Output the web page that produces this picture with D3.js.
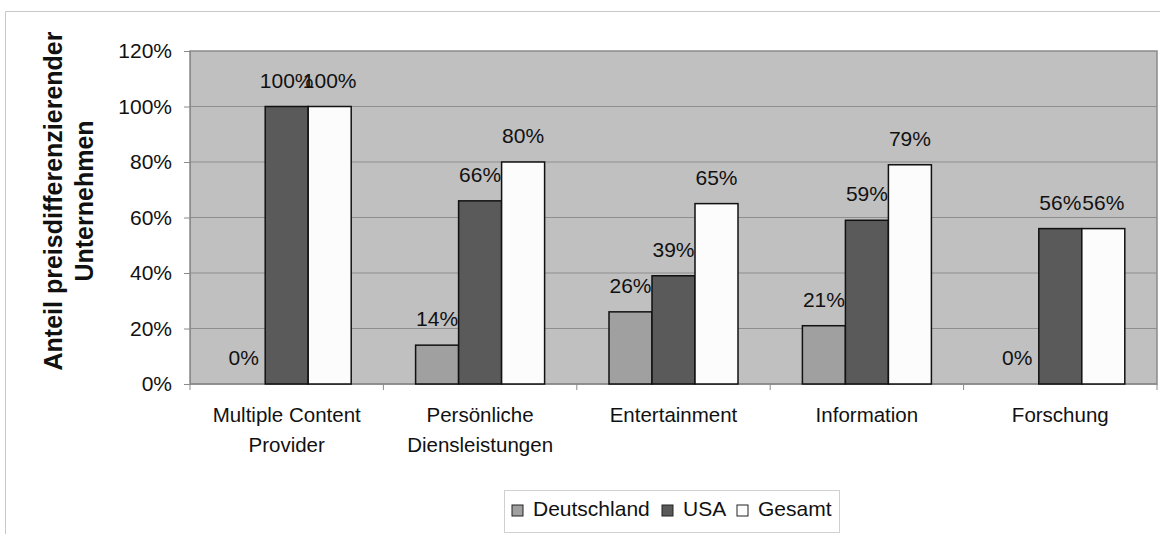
<!DOCTYPE html>
<html>
<head>
<meta charset="utf-8">
<script src="https://cdn.jsdelivr.net/npm/d3@7"></script>
<style>
  body { margin: 0; background: #fff; }
  svg { display: block; font-family: "Liberation Sans", Arial, sans-serif; }
</style>
</head>
<body>
<svg id="chart" width="1160" height="534"></svg>
<script>
// Categories (two-line labels) and series values in percent
const categories = [
  ["Multiple Content", "Provider"],
  ["Persönliche", "Diensleistungen"],
  ["Entertainment"],
  ["Information"],
  ["Forschung"]
];
const seriesNames = ["Deutschland", "USA", "Gesamt"];
const deutschland = [0, 14, 26, 21, 0];
const usa = [100, 66, 39, 59, 56];
const gesamt = [100, 80, 65, 79, 56];
const yTicks = [0, 20, 40, 60, 80, 100, 120];

const seriesValues = [deutschland, usa, gesamt];
const colors = ["#a0a0a0", "#5a5a5a", "#fcfcfc"];

const svg = d3.select("#chart");
const W = 1160, H = 534;
const plot = { left: 190, right: 1157, top: 51, bottom: 384 };
const FS = 21;

// Outer chart frame
svg.append("path")
  .attr("d", `M5.5,${H} L5.5,11.5 L${W},11.5`)
  .attr("fill", "none").attr("stroke", "#c8c8c8").attr("stroke-width", 1);

const x = d3.scaleBand()
  .domain(d3.range(categories.length))
  .range([plot.left, plot.right])
  .paddingInner(0).paddingOuter(0);

const bw = x.bandwidth();
const groupPad = 0.333; // fraction of band left empty around each group
const xSeries = d3.scaleBand()
  .domain(d3.range(seriesNames.length))
  .range([bw * groupPad / 2, bw * (1 - groupPad / 2)]);

const y = d3.scaleLinear().domain([0, 120]).range([plot.bottom, plot.top]);

// Plot background
svg.append("rect")
  .attr("x", plot.left).attr("y", plot.top)
  .attr("width", plot.right - plot.left).attr("height", plot.bottom - plot.top)
  .attr("fill", "#c0c0c0").attr("stroke", "#8a8a8a").attr("stroke-width", 1.5);

// Gridlines
svg.append("g").selectAll("line")
  .data(yTicks.filter(t => t > 0 && t < 120))
  .join("line")
  .attr("x1", plot.left).attr("x2", plot.right)
  .attr("y1", d => y(d)).attr("y2", d => y(d))
  .attr("stroke", "#8e8e8e").attr("stroke-width", 1);

// Y axis
const yAxis = svg.append("g")
  .attr("transform", `translate(${plot.left},0)`)
  .call(d3.axisLeft(y).tickValues(yTicks).tickFormat(d => d + "%").tickSize(6).tickPadding(12));
yAxis.select(".domain").attr("stroke", "#8a8a8a");
yAxis.selectAll(".tick line").attr("stroke", "#8a8a8a");
yAxis.selectAll("text").attr("font-size", FS).attr("fill", "#111")
  .attr("font-family", "Liberation Sans, Arial, sans-serif");

// X axis baseline and category separators
const xAxis = svg.append("g")
  .attr("transform", `translate(0,${plot.bottom})`);
xAxis.append("line")
  .attr("x1", plot.left).attr("x2", plot.right)
  .attr("stroke", "#8a8a8a").attr("stroke-width", 1.5);
xAxis.selectAll(".sep")
  .data(d3.range(categories.length + 1))
  .join("line")
  .attr("x1", d => plot.left + d * bw).attr("x2", d => plot.left + d * bw)
  .attr("y1", 0).attr("y2", 6)
  .attr("stroke", "#8a8a8a");

// Category labels
const catLabels = svg.append("g");
categories.forEach((lines, i) => {
  const t = catLabels.append("text")
    .attr("x", x(i) + bw / 2)
    .attr("y", plot.bottom + 38)
    .attr("text-anchor", "middle")
    .attr("font-size", 20.5).attr("fill", "#111");
  lines.forEach((ln, j) => {
    t.append("tspan").attr("x", x(i) + bw / 2).attr("dy", j === 0 ? 0 : 30).text(ln);
  });
});

// Bars and value labels
const barData = [];
seriesValues.forEach((vals, s) => {
  vals.forEach((v, i) => barData.push({ s, i, v }));
});

svg.append("g").selectAll("rect")
  .data(barData.filter(d => d.v > 0))
  .join("rect")
  .attr("x", d => x(d.i) + xSeries(d.s))
  .attr("y", d => y(d.v))
  .attr("width", xSeries.bandwidth())
  .attr("height", d => y(0) - y(d.v))
  .attr("fill", d => colors[d.s])
  .attr("stroke", "#111").attr("stroke-width", 1.5);

svg.append("g").selectAll("text")
  .data(barData)
  .join("text")
  .attr("x", d => x(d.i) + xSeries(d.s) + xSeries.bandwidth() / 2)
  .attr("y", d => y(d.v) - 19)
  .attr("text-anchor", "middle")
  .attr("font-size", FS).attr("fill", "#111")
  .text(d => d.v + "%");

// Y axis title
const yt = svg.append("text")
  .attr("transform", `translate(62,201) rotate(-90)`)
  .attr("text-anchor", "middle")
  .attr("font-size", 25).attr("font-weight", "bold").attr("fill", "#111");
yt.append("tspan").attr("x", 0).attr("dy", 0).text("Anteil preisdifferenzierender");
yt.append("tspan").attr("x", 0).attr("dy", 31).text("Unternehmen");

// Legend
const legend = svg.append("g");
legend.append("rect")
  .attr("x", 504.5).attr("y", 490.5).attr("width", 335).attr("height", 42)
  .attr("fill", "#fff").attr("stroke", "#d0d0d0");
const legendX = [512, 662, 737];
seriesNames.forEach((name, s) => {
  legend.append("rect")
    .attr("x", legendX[s]).attr("y", 505).attr("width", 11).attr("height", 11)
    .attr("fill", colors[s]).attr("stroke", "#222").attr("stroke-width", 1);
  legend.append("text")
    .attr("x", legendX[s] + 21).attr("y", 516)
    .attr("font-size", FS).attr("fill", "#111")
    .text(name);
});
</script>
</body>
</html>
